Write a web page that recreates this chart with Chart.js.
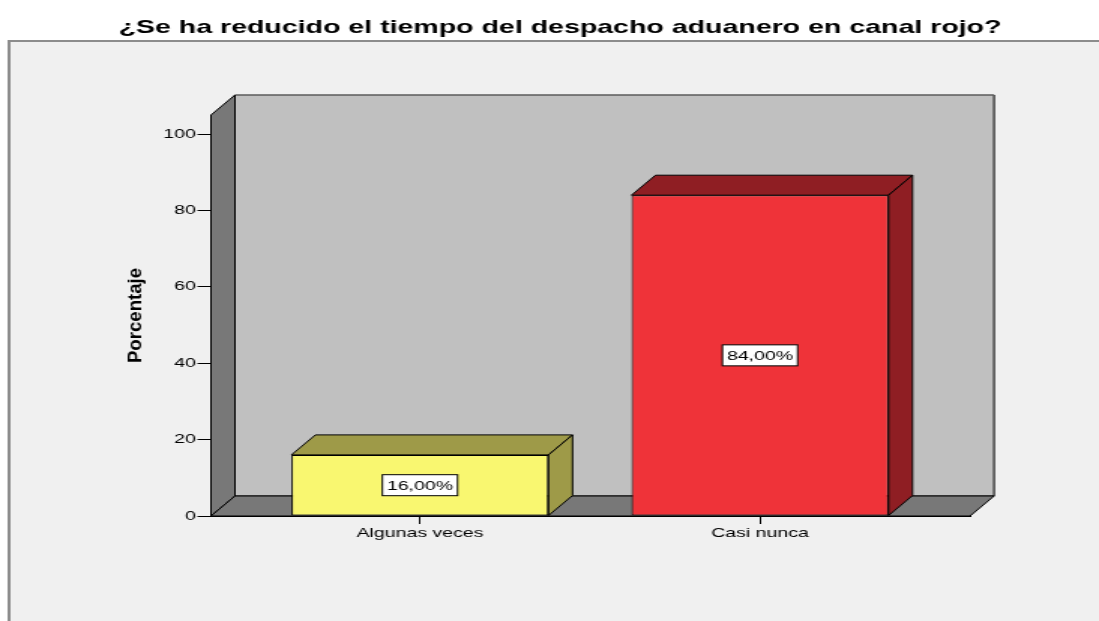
<!DOCTYPE html>
<html>
<head>
<meta charset="utf-8">
<script src="https://cdn.jsdelivr.net/npm/chart.js@4.4.1/dist/chart.umd.min.js"></script>
<style>
  html, body { margin: 0; padding: 0; background: #fff; overflow: hidden; }
  /* the original export is stretched sideways, so the chart is drawn narrow and widened */
  #wrap { width: 732px; height: 621px; transform: scaleX(1.50137); transform-origin: 0 0; }
</style>
</head>
<body>
<div id="wrap"><canvas id="chart" width="732" height="621"></canvas></div>
<script>
const chartTitle = '¿Se ha reducido el tiempo del despacho aduanero en canal rojo?';
const yTitle = 'Porcentaje';
const categories = ['Algunas veces', 'Casi nunca'];
const percentages = [16, 84];
const yTicks = [0, 20, 40, 60, 80, 100];

const frontColors = ['#f9f770', '#ef3339'];
const shadeColors = ['#9e9a48', '#8f1e23'];
const DX = 16, DY = 20;
const FONT = '"Liberation Sans", Arial, sans-serif';

function poly(ctx, pts, fill, stroke) {
  ctx.beginPath();
  ctx.moveTo(pts[0][0], pts[0][1]);
  for (let i = 1; i < pts.length; i++) ctx.lineTo(pts[i][0], pts[i][1]);
  ctx.closePath();
  if (fill) { ctx.fillStyle = fill; ctx.fill(); }
  if (stroke) { ctx.strokeStyle = stroke; ctx.lineWidth = 1; ctx.stroke(); }
}

const box3d = {
  id: 'box3d',
  beforeDraw(chart) {
    const ctx = chart.ctx;
    const { x, y } = chart.scales;
    const L = x.left, R = x.right;
    const T = y.getPixelForValue(y.max), B = y.getPixelForValue(0);
    ctx.save();
    ctx.fillStyle = '#fff';
    ctx.fillRect(0, 0, chart.width, chart.height);
    ctx.fillStyle = '#f0f0f0';
    ctx.fillRect(6, 41, chart.width, chart.height);
    ctx.strokeStyle = '#8c8c8c';
    ctx.lineWidth = 2;
    ctx.beginPath();
    ctx.moveTo(6, chart.height);
    ctx.lineTo(6, 41);
    ctx.lineTo(chart.width, 41);
    ctx.stroke();

    // back wall, side wall, floor
    poly(ctx, [[L + DX, T - DY], [R + DX, T - DY], [R + DX, B - DY], [L + DX, B - DY]], '#c0c0c0', '#000');
    ctx.strokeStyle = '#888';
    ctx.beginPath();
    ctx.moveTo(L + DX, T - DY);
    ctx.lineTo(R + DX, T - DY);
    ctx.stroke();
    poly(ctx, [[L, T], [L + DX, T - DY], [L + DX, B - DY], [L, B]], '#787878', '#000');
    poly(ctx, [[L, B], [L + DX, B - DY], [R + DX, B - DY], [R, B]], '#787878', '#000');
    ctx.restore();
  },
  afterDatasetsDraw(chart) {
    const ctx = chart.ctx;
    const bars = chart.getDatasetMeta(0).data;
    ctx.save();
    bars.forEach((bar, i) => {
      const x0 = bar.x - bar.width / 2, x1 = bar.x + bar.width / 2;
      const top = bar.y, base = bar.base;
      poly(ctx, [[x0, top], [x0 + DX, top - DY], [x1 + DX, top - DY], [x1, top]], shadeColors[i], '#000');
      poly(ctx, [[x1, top], [x1 + DX, top - DY], [x1 + DX, base - DY], [x1, base]], shadeColors[i], '#000');

      const label = percentages[i].toFixed(2).replace('.', ',') + '%';
      ctx.font = '13px ' + FONT;
      const w = ctx.measureText(label).width + 6, h = 21;
      const cy = (top + base) / 2;
      ctx.fillStyle = '#fff';
      ctx.fillRect(bar.x - w / 2, cy - h / 2, w, h);
      ctx.strokeStyle = '#000';
      ctx.lineWidth = 1;
      ctx.strokeRect(bar.x - w / 2, cy - h / 2, w, h);
      ctx.fillStyle = '#000';
      ctx.textAlign = 'center';
      ctx.textBaseline = 'middle';
      ctx.fillText(label, bar.x, cy + 1);
    });
    ctx.restore();
  },
  afterDraw(chart) {
    const ctx = chart.ctx;
    ctx.save();
    ctx.fillStyle = '#000';
    ctx.textAlign = 'center';
    ctx.textBaseline = 'middle';
    ctx.font = 'bold 19px ' + FONT;
    ctx.fillText(chartTitle, 373, 28);

    const area = chart.chartArea;
    ctx.translate(90.6, (area.top + area.bottom) / 2);
    ctx.rotate(-Math.PI / 2);
    ctx.scale(1.55, 1);
    ctx.font = 'bold 12px ' + FONT;
    ctx.fillText(yTitle, 0, 0);
    ctx.restore();
  }
};

new Chart(document.getElementById('chart'), {
  type: 'bar',
  data: {
    datasets: [{
      data: categories.map((c, i) => ({ x: i, y: percentages[i] })),
      backgroundColor: frontColors,
      borderColor: '#000',
      borderWidth: 1,
      borderSkipped: false,
      barPercentage: 0.756,
      categoryPercentage: 1
    }]
  },
  options: {
    responsive: false,
    animation: false,
    devicePixelRatio: 1,
    layout: { padding: { top: 115, right: 85.9, bottom: 0, left: 0 } },
    plugins: {
      legend: { display: false },
      tooltip: { enabled: false }
    },
    scales: {
      x: {
        type: 'linear',
        offset: false,
        min: -0.6146,
        max: 1.6177,
        afterBuildTicks: s => { s.ticks = categories.map((c, i) => ({ value: i })); },
        afterFit: s => { s.height = 105; },
        grid: { offset: false, drawOnChartArea: false, tickLength: 8, color: '#000' },
        border: { color: '#000' },
        ticks: {
          callback: v => categories[v],
          color: '#000',
          font: { family: FONT, size: 13 },
          padding: 2,
          maxRotation: 0,
          autoSkip: false
        }
      },
      y: {
        min: 0,
        max: 105,
        afterBuildTicks: s => { s.ticks = yTicks.map(v => ({ value: v })); },
        afterFit: s => { s.width = 140.5; },
        grid: { drawOnChartArea: false, tickLength: 9, color: '#000' },
        border: { color: '#000' },
        ticks: {
          color: '#000',
          font: { family: FONT, size: 13 },
          padding: 1
        }
      }
    }
  },
  plugins: [box3d]
});
</script>
</body>
</html>
